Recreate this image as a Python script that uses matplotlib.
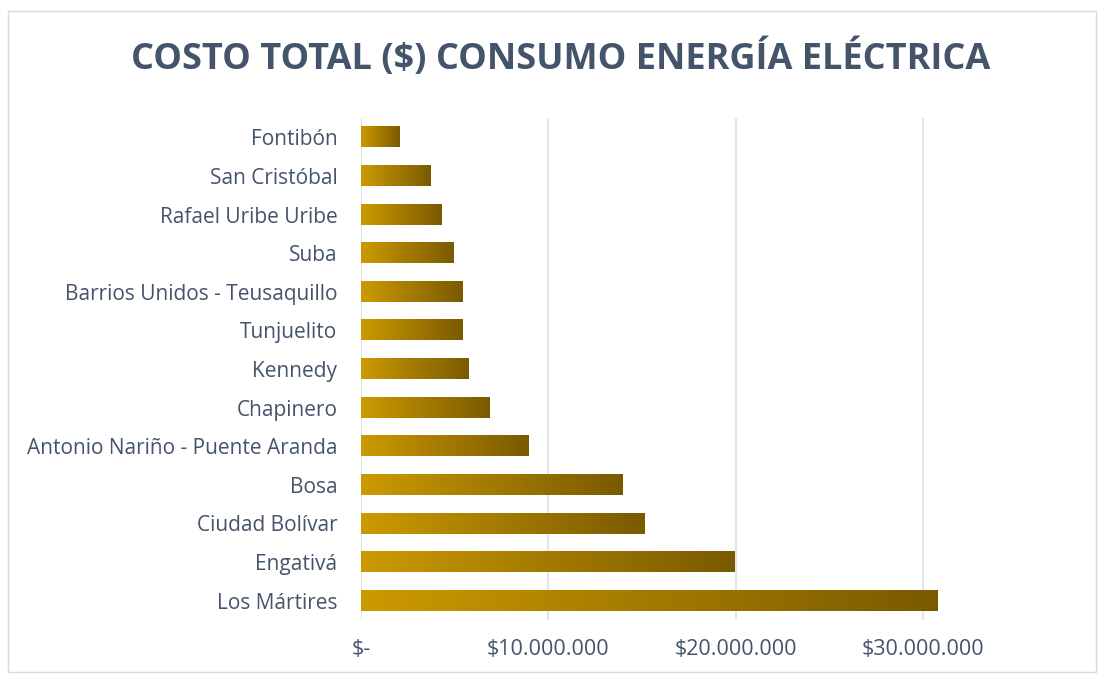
import matplotlib.pyplot as plt
import numpy as np
from matplotlib.colors import LinearSegmentedColormap
from matplotlib.patches import Rectangle

# datos
localidades = ['Fontibón', 'San Cristóbal', 'Rafael Uribe Uribe', 'Suba',
               'Barrios Unidos - Teusaquillo', 'Tunjuelito', 'Kennedy', 'Chapinero',
               'Antonio Nariño - Puente Aranda', 'Bosa', 'Ciudad Bolívar', 'Engativá',
               'Los Mártires']
costos = [2030000, 3730000, 4270000, 4960000, 5440000, 5440000, 5760000, 6830000,
          8960000, 13970000, 15150000, 19950000, 30770000]
ticks = [0, 10000000, 20000000, 30000000]
tick_labels = ['$-', '$10.000.000', '$20.000.000', '$30.000.000']

gris = '#44546A'
cmap = LinearSegmentedColormap.from_list('oro', ['#CC9A00', '#7A5A00'])

fig = plt.figure(figsize=(11, 6.75), dpi=100)
fig.patches.append(Rectangle((8 / 1100, 1 - 672 / 675), 1088 / 1100, 661 / 675,
                             transform=fig.transFigure, fill=False,
                             edgecolor='#D9D9D9', linewidth=1))
ax = fig.add_axes([361 / 1100, 1 - 620 / 675, 656 / 1100, 502 / 675])

y = np.arange(len(localidades))[::-1]
alto = 0.52
grad = np.linspace(0, 1, 256).reshape(1, -1)
for yi, v in zip(y, costos):
    ax.imshow(grad, cmap=cmap, aspect='auto', interpolation='bicubic',
              extent=[0, v, yi - alto / 2, yi + alto / 2], zorder=2)

ax.set_xlim(0, 35000000)
ax.set_ylim(-0.5, len(localidades) - 0.5)
ax.set_yticks(y)
ax.set_yticklabels(localidades, fontsize=15, color=gris, family='Open Sans')
ax.set_xticks(ticks)
ax.set_xticklabels(tick_labels, fontsize=15.5, color=gris, family='Open Sans')
ax.tick_params(length=0)
ax.tick_params(axis='x', pad=14)
ax.tick_params(axis='y', pad=17)
ax.grid(axis='x', color='#E1E5EC', linewidth=1.5, zorder=0)
ax.set_axisbelow(True)
for s in ax.spines.values():
    s.set_visible(False)

fig.text(561 / 1100, 1 - 59 / 675, 'COSTO TOTAL ($) CONSUMO ENERGÍA ELÉCTRICA',
         ha='center', va='center', fontsize=26, fontweight='bold', color=gris,
         family='Open Sans')

fig.savefig('out.png', dpi=100)
